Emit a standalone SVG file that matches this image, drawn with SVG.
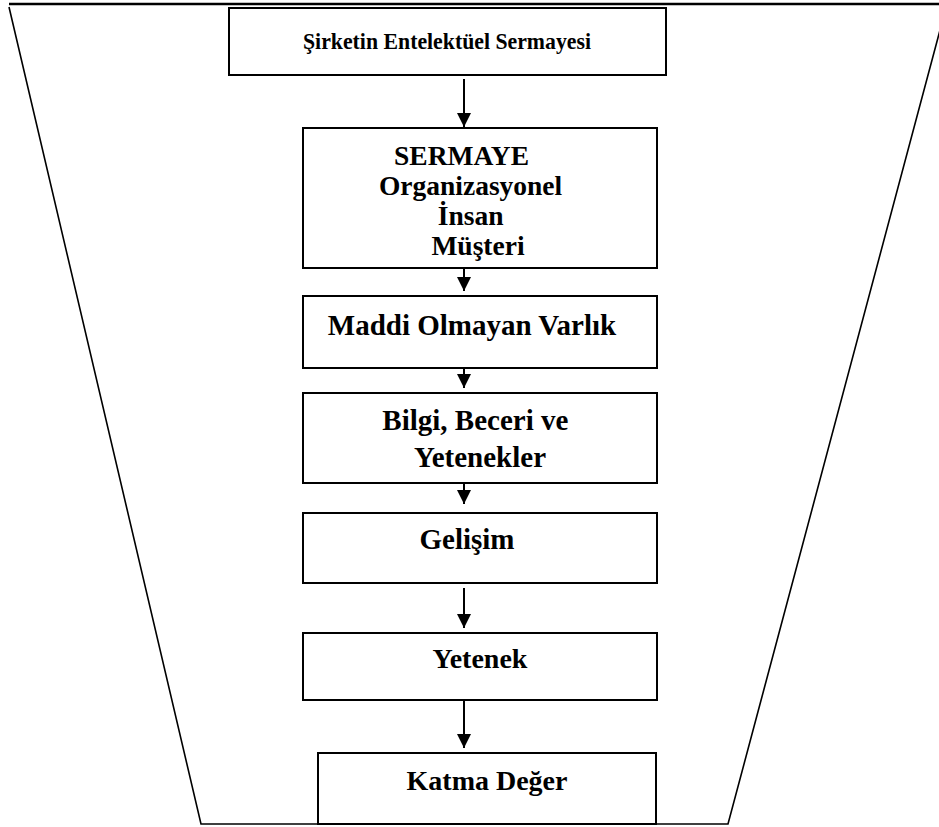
<svg xmlns="http://www.w3.org/2000/svg" width="939" height="827" viewBox="0 0 939 827">
  <style>
    .frame { fill: none; stroke: #000; stroke-width: 1.6; }
    .box { fill: #fff; stroke: #000; stroke-width: 2; }
    .lbl { font-family: 'Liberation Serif', 'DejaVu Serif', serif; font-weight: bold; fill: #000; text-anchor: middle; }
    .conn { stroke: #000; stroke-width: 2; fill: none; marker-end: url(#head); }
  </style>
  <defs>
    <marker id="head" markerUnits="userSpaceOnUse" markerWidth="16" markerHeight="16" refX="15" refY="8" orient="auto">
      <path d="M1,1 L15,8 L1,15 Z" fill="#000"/>
    </marker>
  </defs>

  <rect width="939" height="827" fill="#fff"/>

  <!-- funnel outline -->
  <g id="funnel">
    <line x1="9" y1="4" x2="939" y2="4" stroke="#000" stroke-width="2.5"/>
    <polyline class="frame" points="9,7 201,824 728,824 947,4"/>
  </g>

  <g id="n-sermayesi">
    <rect class="box" x="229" y="8" width="437" height="67"/>
    <text class="lbl" x="447" y="49" font-size="23" textLength="288" lengthAdjust="spacingAndGlyphs">Şirketin Entelektüel Sermayesi</text>
  </g>

  <g id="n-sermaye">
    <rect class="box" x="303" y="128" width="354" height="140"/>
    <text class="lbl" font-size="27.5">
      <tspan x="465" y="165">SERMAYE</tspan>
      <tspan x="474" y="195">Organizasyonel</tspan>
      <tspan x="474" y="225">İnsan</tspan>
      <tspan x="478" y="255">Müşteri</tspan>
    </text>
  </g>

  <g id="n-maddi">
    <rect class="box" x="303" y="296" width="354" height="72"/>
    <text class="lbl" x="472" y="335" font-size="29">Maddi Olmayan Varlık</text>
  </g>

  <g id="n-bilgi">
    <rect class="box" x="303" y="393" width="354" height="90"/>
    <text class="lbl" font-size="29">
      <tspan x="479" y="430">Bilgi, Beceri ve</tspan>
      <tspan x="480" y="467">Yetenekler</tspan>
    </text>
  </g>

  <g id="n-gelisim">
    <rect class="box" x="303" y="513" width="354" height="70"/>
    <text class="lbl" x="467" y="549" font-size="29">Gelişim</text>
  </g>

  <g id="n-yetenek">
    <rect class="box" x="303" y="633" width="354" height="67"/>
    <text class="lbl" x="480" y="668" font-size="28">Yetenek</text>
  </g>

  <g id="n-katma">
    <rect class="box" x="318" y="753" width="338" height="71"/>
    <text class="lbl" x="487" y="790" font-size="28">Katma Değer</text>
  </g>

  <g id="connectors">
    <line class="conn" x1="464" y1="79" x2="464" y2="127"/>
    <line class="conn" x1="464" y1="268" x2="464" y2="291"/>
    <line class="conn" x1="464" y1="368" x2="464" y2="388"/>
    <line class="conn" x1="464" y1="483" x2="464" y2="504"/>
    <line class="conn" x1="464" y1="588" x2="464" y2="628"/>
    <line class="conn" x1="464" y1="700" x2="464" y2="748"/>
  </g>
</svg>
